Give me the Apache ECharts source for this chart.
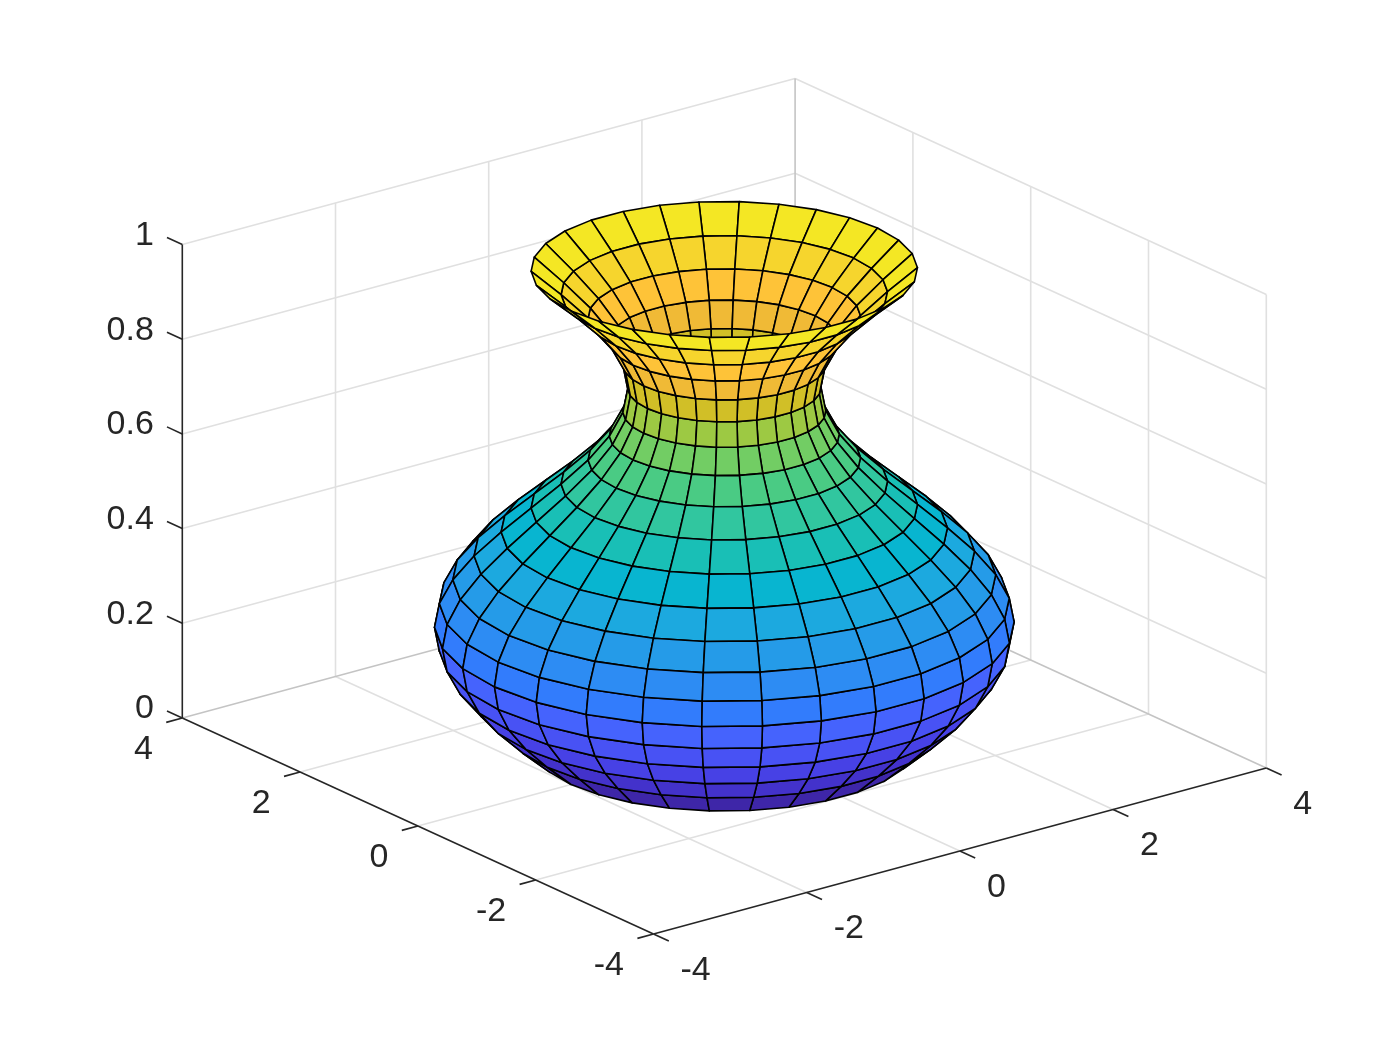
<!DOCTYPE html>
<html><head><meta charset="utf-8">
<style>html,body{margin:0;padding:0;background:#fff}#c{width:1400px;height:1050px}</style>
<script src="https://cdn.jsdelivr.net/npm/echarts@6/dist/echarts.min.js"></script>
</head><body><div id="c"></div>
<script>
var xTicks = [-4, -2, 0, 2, 4];
var yTicks = [-4, -2, 0, 2, 4];
var zTicks = [0, 0.2, 0.4, 0.6, 0.8, 1];
var xLabels = ['-4', '-2', '0', '2', '4'];
var yLabels = ['-4', '-2', '0', '2', '4'];
var zLabels = ['0', '0.2', '0.4', '0.6', '0.8', '1'];
var heights = [0,0.05,0.1,0.15,0.2,0.25,0.3,0.35,0.4,0.45,0.5,0.55,0.6,0.65,0.7,0.75,0.8,0.85,0.9,0.95,1];
var radii = [2,2.31,2.59,2.81,2.95,3,2.95,2.81,2.59,2.31,2,1.69,1.41,1.19,1.05,1,1.05,1.19,1.41,1.69,2];
var anglesDeg = [0,12,24,36,48,60,72,84,96,108,120,132,144,156,168,180,192,204,216,228,240,252,264,276,288,300,312,324,336,348,360];
var parula = [
[.2422,.1504,.6603],[.2504,.165,.7076],[.2578,.1818,.7511],[.2647,.1978,.7952],[.2706,.2147,.8364],[.2751,.2342,.871],[.2783,.2559,.8991],[.2803,.2782,.9221],
[.2813,.3006,.9414],[.281,.3228,.9579],[.2795,.3447,.9717],[.276,.3667,.9829],[.2699,.3892,.9906],[.2602,.4123,.9952],[.244,.4358,.9988],[.2206,.4603,.9973],
[.1963,.4847,.9892],[.1834,.5074,.9798],[.1786,.5289,.9682],[.1764,.5499,.952],[.1687,.5703,.9359],[.154,.5902,.9218],[.146,.6091,.9079],[.138,.6276,.8973],
[.1248,.6459,.8883],[.1113,.6635,.8763],[.0952,.6798,.8598],[.0689,.6948,.8394],[.0297,.7082,.8163],[.0036,.7203,.7917],[.0067,.7312,.766],[.0433,.7411,.7394],
[.0964,.75,.712],[.1408,.7584,.6842],[.1717,.767,.6554],[.1938,.7758,.6251],[.2161,.7843,.5923],[.247,.7918,.5567],[.2906,.7973,.5188],[.3406,.8008,.4789],
[.3909,.8029,.4354],[.4456,.8024,.3909],[.5044,.7993,.348],[.5616,.7942,.3045],[.6174,.7876,.2612],[.672,.7793,.2227],[.7242,.7698,.191],[.7738,.7598,.1646],
[.8203,.7498,.1535],[.8634,.7406,.1596],[.9035,.733,.1774],[.9393,.7288,.21],[.9728,.7298,.2394],[.9956,.7434,.2371],[.9961,.7653,.2199],[.9839,.7893,.2055],
[.9728,.812,.1936],[.9643,.8344,.1768],[.961,.8583,.1644],[.9597,.88,.15],[.9585,.905,.14],[.9628,.93,.12],[.9686,.955,.09],[.9763,.9831,.0538]];

var INK = '#262626', GRID = '#e0e0e0', EDGE = '#c4c4c4';

// oblique view (az -37.5, el 30) expressed as screen vectors of the plot box
function px(p) {
  var x = p[0], y = p[1], z = p[2];
  return [724.3 + x * 76.6 - y * 58.9, 743 - x * 20.75 - y * 27 - z * 473.5];
}
function depth(x, y, z) { return -0.527 * x - 0.687 * y + 0.5 * 5.65 * z; }

var faces = [];
for (var i = 0; i < heights.length - 1; i++) {
  for (var j = 0; j < anglesDeg.length - 1; j++) {
    var d = 0;
    [[i, j], [i, j + 1], [i + 1, j + 1], [i + 1, j]].forEach(function (c) {
      var a = anglesDeg[c[1]] * Math.PI / 180;
      d += depth(radii[c[0]] * Math.cos(a), radii[c[0]] * Math.sin(a), heights[c[0]]);
    });
    faces.push([i, j, d / 4]);
  }
}
faces.sort(function (a, b) { return a[2] - b[2]; });

var W = 1.6;
var gridLines = [], zMin = zTicks[0], zMax = zTicks[zTicks.length - 1];
var X0 = xTicks[0], X1 = xTicks[4], Y0 = yTicks[0], Y1 = yTicks[4];
xTicks.slice(1, 4).forEach(function (x) {
  gridLines.push([[x, Y0, zMin], [x, Y1, zMin], GRID, W]);
  gridLines.push([[x, Y1, zMin], [x, Y1, zMax], GRID, W]);
});
yTicks.slice(1, 4).forEach(function (y) {
  gridLines.push([[X0, y, zMin], [X1, y, zMin], GRID, W]);
  gridLines.push([[X1, y, zMin], [X1, y, zMax], GRID, W]);
});
zTicks.slice(1, 5).forEach(function (z) {
  gridLines.push([[X0, Y1, z], [X1, Y1, z], GRID, W]);
  gridLines.push([[X1, Y1, z], [X1, Y0, z], GRID, W]);
});
gridLines.push([[X0, Y1, zMax], [X1, Y1, zMax], GRID, W]);
gridLines.push([[X1, Y1, zMax], [X1, Y0, zMax], GRID, W]);
gridLines.push([[X1, Y0, zMin], [X1, Y0, zMax], GRID, W]);
gridLines.push([[X1, Y1, zMin], [X1, Y1, zMax], EDGE, W]);
gridLines.push([[X0, Y1, zMin], [X1, Y1, zMin], EDGE, W]);
gridLines.push([[X1, Y1, zMin], [X1, Y0, zMin], EDGE, W]);

var axisLines = [
  [[X0, Y1, zMin], [X0, Y1, zMax], INK, W],
  [[X0, Y0, zMin], [X0, Y1, zMin], INK, W],
  [[X0, Y0, zMin], [X1, Y0, zMin], INK, W]
];
xTicks.forEach(function (x) { axisLines.push([[x, Y0, zMin], [x, Y0 - 0.26, zMin], INK, W]); });
yTicks.forEach(function (y) { axisLines.push([[X0, y, zMin], [X0 - 0.21, y, zMin], INK, W]); });
zTicks.forEach(function (z) { axisLines.push([[X0, Y1, z], [X0, Y1 + 0.26, z], INK, W]); });

var tickText = [];
xTicks.forEach(function (x, k) { tickText.push([px([x, Y0, zMin]), xLabels[k], 27, 36.5, 'left']); });
yTicks.forEach(function (y, k) { tickText.push([px([X0, y, zMin]), yLabels[k], -29.5, 32, 'right']); });
zTicks.forEach(function (z, k) { tickText.push([px([X0, Y1, z]), zLabels[k], -28.5, -9, 'right']); });

function lineSeries(list, z) {
  return {
    type: 'custom', coordinateSystem: 'cartesian2d', silent: true, z: z, clip: false,
    data: list.map(function (l, k) { return [k]; }), encode: { x: 0, y: 0 },
    renderItem: function (params, api) {
      var l = list[api.value(0)];
      var a = api.coord(px(l[0])), b = api.coord(px(l[1]));
      return { type: 'line', shape: { x1: a[0], y1: a[1], x2: b[0], y2: b[1] },
               style: { stroke: l[2], lineWidth: l[3], fill: null } };
    }
  };
}

var chart = echarts.init(document.getElementById('c'), null, { renderer: 'canvas' });
chart.setOption({
  animation: false,
  backgroundColor: '#ffffff',
  grid: { left: 0, right: 0, top: 0, bottom: 0 },
  xAxis: { type: 'value', min: 0, max: 1400, show: false },
  yAxis: { type: 'value', min: 0, max: 1050, inverse: true, show: false },
  series: [
    lineSeries(gridLines, 1),
    lineSeries(axisLines, 2),
    {
      type: 'custom', coordinateSystem: 'cartesian2d', silent: true, z: 3, clip: false,
      data: faces, encode: { x: 0, y: 1 },
      renderItem: function (params, api) {
        var i = api.value(0), j = api.value(1);
        var pts = [[i, j], [i, j + 1], [i + 1, j + 1], [i + 1, j]].map(function (c) {
          var a = anglesDeg[c[1]] * Math.PI / 180, r = radii[c[0]];
          return api.coord(px([r * Math.cos(a), r * Math.sin(a), heights[c[0]]]));
        });
        var col = parula[Math.min(63, Math.floor((heights[i] + 1e-9) * 64))];
        return { type: 'polygon', shape: { points: pts },
                 style: { fill: 'rgb(' + col.map(function (v) { return Math.round(v * 255); }).join(',') + ')',
                          stroke: '#000000', lineWidth: 1.6, lineJoin: 'round' } };
      }
    },
    {
      type: 'custom', coordinateSystem: 'cartesian2d', silent: true, z: 4, clip: false,
      data: tickText.map(function (t, k) { return [k]; }), encode: { x: 0, y: 0 },
      renderItem: function (params, api) {
        var t = tickText[api.value(0)], a = api.coord(t[0]);
        return { type: 'text', style: { text: t[1], x: a[0] + t[2], y: a[1] + t[3], align: t[4], verticalAlign: 'middle',
                 fill: INK, font: '34px "Liberation Sans", Arial, sans-serif' } };
      }
    }
  ]
});
</script></body></html>
